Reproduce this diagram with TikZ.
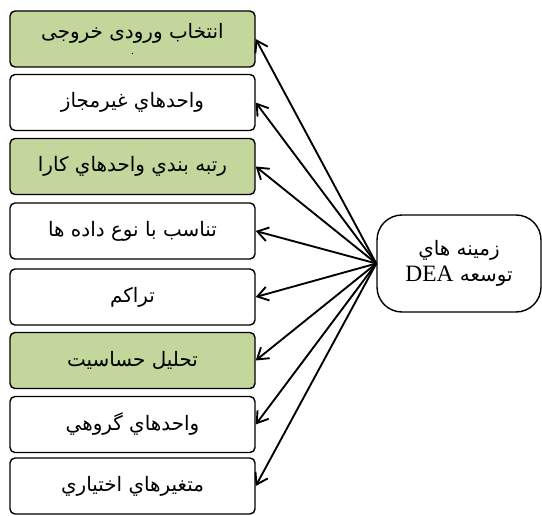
\documentclass[tikz,border=0pt]{standalone}
\usepackage{fontspec}
\setmainfont{Liberation Serif}
\newfontfamily\arabicfont[Script=Arabic]{DejaVu Sans}
\TeXXeTstate=1
\usepackage{tikz}
\usetikzlibrary{arrows.meta,shapes}
\definecolor{lightolive}{RGB}{195,214,155}
\newcommand{\fa}[1]{{\arabicfont\beginR #1\endR}}

\begin{document}
\begin{tikzpicture}
\tikzstyle{field}=[rectangle,draw, rounded corners=0.15cm, line width=1.2pt,
    minimum width = 7.35cm, minimum height = 1.68cm, font=\fontsize{17}{19}\selectfont]
\tikzstyle{field2}=[field, fill=lightolive]
\tikzstyle{link}=[-{Straight Barb[length=0.32cm,width=0.42cm]}, line width=1.6pt]
\useasboundingbox (0,0) rectangle (16.26,-15.45);

\node[field2, align=center] (f1) at (3.975,-1.17) {\fa{انتخاب ورودی خروجی}\\[-5pt]{\fontsize{10}{10}\selectfont .}};
\node[field] (f2) at (3.975,-3.075) {\fa{واحدهاي غيرمجاز}};
\node[field2] (f3) at (3.975,-4.995) {\fa{رتبه بندي واحدهاي كارا}};
\node[field] (f4) at (3.975,-6.93) {\fa{تناسب با نوع داده ها}};
\node[field] (f5) at (3.975,-8.91) {\fa{تراكم}};
\node[field2] (f6) at (3.975,-10.815) {\fa{تحليل حساسيت}};
\node[field] (f7) at (3.975,-12.735) {\fa{واحدهاي گروهي}};
\node[field] (f8) at (3.975,-14.58) {\fa{متغيرهاي اختياري}};

\node[rectangle,draw, rounded corners=0.75cm, line width=1.2pt,
    minimum width = 4.92cm, minimum height = 2.91cm, align=center,
    font=\fontsize{17}{22}\selectfont] (dea) at (13.77,-7.905)
    {\fa{زمينه هاي}\\ {\arabicfont\beginR توسعه \beginL{\rmfamily\fontsize{20}{22}\selectfont DEA}\endL\endR}};

\foreach \i in {1,...,8}
  \draw[link] (dea.west) -- (f\i.east);
\end{tikzpicture}
\end{document}
